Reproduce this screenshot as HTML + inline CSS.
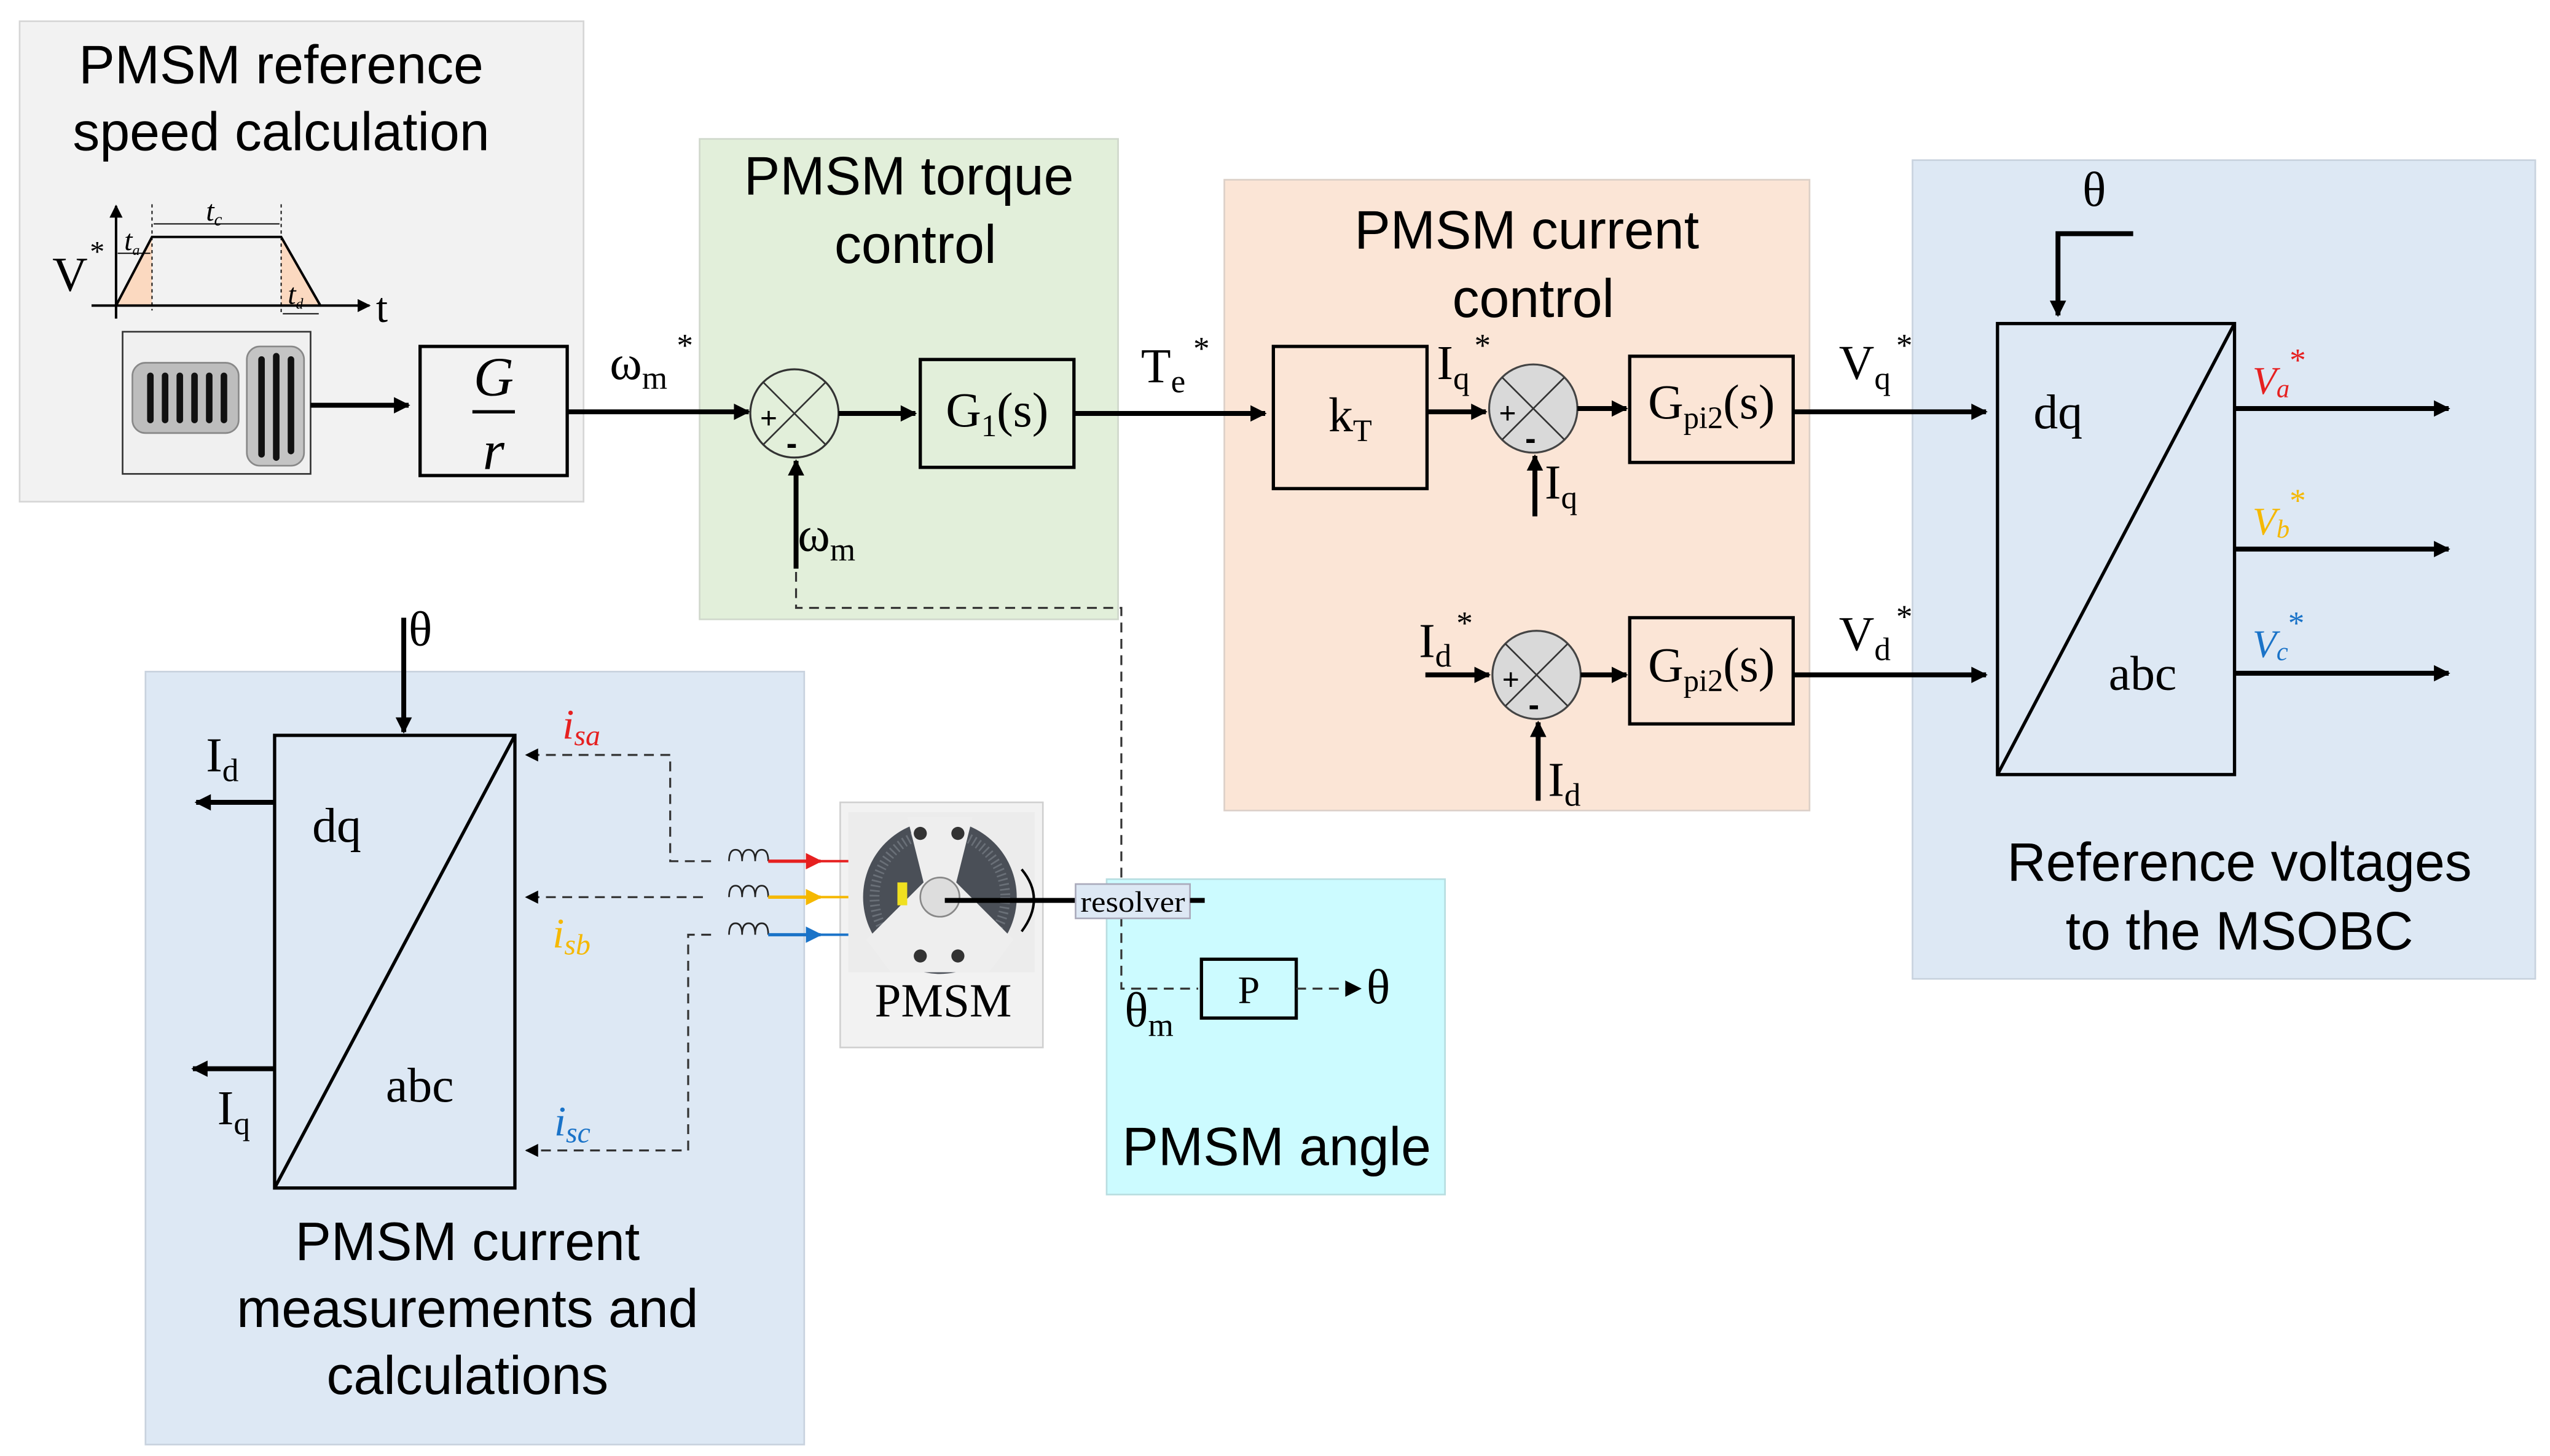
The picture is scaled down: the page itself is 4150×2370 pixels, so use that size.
<!DOCTYPE html>
<html><head><meta charset="utf-8"><style>
html,body{margin:0;padding:0;background:#fff;}
svg{display:block;}
.t{font-family:"Liberation Sans",sans-serif;font-size:33px;fill:#000;text-anchor:middle;}
.m{font-family:"Liberation Serif",serif;font-size:30px;fill:#000;}
.s{font-family:"Liberation Serif",serif;font-size:18px;}
</style></head><body>
<svg width="4150" height="2370" viewBox="0 0 1560 891" preserveAspectRatio="none" xmlns="http://www.w3.org/2000/svg">
<defs>
<marker id="a" viewBox="0 0 10 10" refX="9" refY="5" markerWidth="11" markerHeight="10" markerUnits="userSpaceOnUse" orient="auto"><path d="M0,0L10,5L0,10z" fill="#000"/></marker>
<marker id="A" viewBox="0 0 10 10" refX="9" refY="5" markerWidth="8" markerHeight="8" markerUnits="userSpaceOnUse" orient="auto"><path d="M0,0L10,5L0,10z" fill="#000"/></marker>
<marker id="ar" viewBox="0 0 10 10" refX="9" refY="5" markerWidth="10" markerHeight="10" markerUnits="userSpaceOnUse" orient="auto"><path d="M0,0L10,5L0,10z" fill="#e62020"/></marker>
<marker id="ay" viewBox="0 0 10 10" refX="9" refY="5" markerWidth="10" markerHeight="10" markerUnits="userSpaceOnUse" orient="auto"><path d="M0,0L10,5L0,10z" fill="#f5b800"/></marker>
<marker id="ab" viewBox="0 0 10 10" refX="9" refY="5" markerWidth="10" markerHeight="10" markerUnits="userSpaceOnUse" orient="auto"><path d="M0,0L10,5L0,10z" fill="#1a73c8"/></marker>
</defs>
<rect x="12" y="13" width="345" height="294" fill="#f2f2f2" stroke="#d6d6d6"/>
<rect x="428" y="85" width="256" height="294" fill="#e2efda" stroke="#d0d8cc"/>
<rect x="749" y="110" width="358" height="386" fill="#fbe5d6" stroke="#dcd0c8"/>
<rect x="1170" y="98" width="381" height="501" fill="#dde8f4" stroke="#c8d2de"/>
<rect x="89" y="411" width="403" height="473" fill="#dde8f4" stroke="#c8d2de"/>
<rect x="677" y="538" width="207" height="193" fill="#ccfbff" stroke="#b8dde0"/>
<rect x="514" y="491" width="124" height="150" fill="#f2f2f2" stroke="#d0d0d0"/>

<text class="t" x="172" y="51">PMSM reference</text>
<text class="t" x="172" y="92">speed calculation</text>
<text class="t" x="556" y="119">PMSM torque</text>
<text class="t" x="560" y="161">control</text>
<text class="t" x="934" y="152">PMSM current</text>
<text class="t" x="938" y="194">control</text>
<text class="t" x="1370" y="539">Reference voltages</text>
<text class="t" x="1370" y="581">to the MSOBC</text>
<text class="t" x="286" y="771">PMSM current</text>
<text class="t" x="286" y="812">measurements and</text>
<text class="t" x="286" y="853">calculations</text>
<text class="t" x="781" y="713">PMSM angle</text>

<polygon points="71,187 93,145 93,187" fill="#fbd9c0"/>
<polygon points="172,145 172,187 196,187" fill="#fbd9c0"/>
<line x1="56" y1="187" x2="226" y2="187" stroke="#000" stroke-width="1.5" marker-end="url(#A)"/>
<line x1="71" y1="195" x2="71" y2="126" stroke="#000" stroke-width="1.5" marker-end="url(#A)"/>
<polyline points="71,187 93,145 172,145 196,187" fill="none" stroke="#000" stroke-width="1.5"/>
<line x1="93" y1="125" x2="93" y2="190" stroke="#000" stroke-width="0.7" stroke-dasharray="2,2"/>
<line x1="172" y1="125" x2="172" y2="192" stroke="#000" stroke-width="0.7" stroke-dasharray="2,2"/>
<line x1="94" y1="137" x2="171" y2="137" stroke="#000" stroke-width="0.7"/>
<line x1="72" y1="155" x2="92" y2="155" stroke="#000" stroke-width="0.7"/>
<line x1="173" y1="192" x2="195" y2="192" stroke="#000" stroke-width="0.7"/>
<text class="m" x="32" y="178">V</text><text class="m" x="55" y="160" style="font-size:18px">*</text>
<text class="m" x="230" y="197" style="font-size:26px">t</text>
<text class="s" x="126" y="135" font-style="italic">t<tspan font-size="11" dy="3">c</tspan></text>
<text class="s" x="76" y="153" font-style="italic" font-size="14">t<tspan font-size="9" dy="3">a</tspan></text>
<text class="s" x="176" y="186" font-style="italic" font-size="14">t<tspan font-size="9" dy="3">d</tspan></text>

<rect x="75" y="203" width="115" height="87" fill="#f0f0f0" stroke="#333" stroke-width="1"/>
<rect x="81" y="222" width="65" height="43" rx="8" fill="#bdbdbd" stroke="#888"/>
<g stroke="#111" stroke-width="4" stroke-linecap="round">
<line x1="92" y1="230" x2="92" y2="257"/><line x1="101" y1="230" x2="101" y2="257"/><line x1="110" y1="230" x2="110" y2="257"/><line x1="119" y1="230" x2="119" y2="257"/><line x1="128" y1="230" x2="128" y2="257"/><line x1="137" y1="230" x2="137" y2="257"/></g>
<rect x="151" y="212" width="35" height="73" rx="8" fill="#c4c4c4" stroke="#888"/>
<g stroke="#111" stroke-width="4" stroke-linecap="round"><line x1="160" y1="220" x2="160" y2="278"/><line x1="169" y1="218" x2="169" y2="280"/><line x1="178" y1="220" x2="178" y2="276"/></g>
<line x1="190" y1="248" x2="250" y2="248" stroke="#000" stroke-width="3" marker-end="url(#a)"/>

<rect x="257" y="212" width="90" height="79" fill="none" stroke="#000" stroke-width="2"/>
<text class="m" x="302" y="242" text-anchor="middle" font-style="italic" style="font-size:34px">G</text>
<line x1="289" y1="252" x2="315" y2="252" stroke="#000" stroke-width="2"/>
<text class="m" x="302" y="287" text-anchor="middle" font-style="italic" style="font-size:34px">r</text>
<line x1="347" y1="252" x2="458" y2="252" stroke="#000" stroke-width="3" marker-end="url(#a)"/>
<text class="m" x="373" y="232">ω<tspan style="font-size:20px" dy="6">m</tspan></text><text class="m" x="414" y="218" style="font-size:20px">*</text>

<circle cx="486" cy="253" r="27" fill="none" stroke="#333" stroke-width="1.2"/>
<line x1="467" y1="234" x2="505" y2="272" stroke="#333"/><line x1="505" y1="234" x2="467" y2="272" stroke="#333"/>
<text x="465" y="262" font-family="Liberation Sans" font-size="18">+</text>
<text x="481" y="278" font-family="Liberation Sans" font-size="20" font-weight="bold">-</text>
<line x1="513" y1="253" x2="560" y2="253" stroke="#000" stroke-width="3" marker-end="url(#a)"/>
<line x1="487" y1="348" x2="487" y2="282" stroke="#000" stroke-width="3" marker-end="url(#a)"/>
<text class="m" x="488" y="337">ω<tspan style="font-size:20px" dy="6">m</tspan></text>
<rect x="563" y="220" width="94" height="66" fill="none" stroke="#000" stroke-width="2"/>
<text class="m" x="610" y="261" text-anchor="middle">G<tspan style="font-size:19px" dy="6">1</tspan><tspan dy="-6">(s)</tspan></text>
<line x1="657" y1="253" x2="774" y2="253" stroke="#000" stroke-width="3" marker-end="url(#a)"/>
<text class="m" x="698" y="234">T<tspan style="font-size:20px" dy="6">e</tspan></text><text class="m" x="730" y="220" style="font-size:20px">*</text>

<polyline points="487,350 487,372 686,372 686,605 733,605" fill="none" stroke="#333" stroke-width="1.2" stroke-dasharray="6,4"/>

<rect x="779" y="212" width="94" height="87" fill="none" stroke="#000" stroke-width="2"/>
<text class="m" x="826" y="264" text-anchor="middle">k<tspan style="font-size:19px" dy="6">T</tspan></text>
<line x1="873" y1="252" x2="909" y2="252" stroke="#000" stroke-width="3" marker-end="url(#a)"/>
<text class="m" x="879" y="232">I<tspan style="font-size:20px" dy="6">q</tspan></text><text class="m" x="902" y="218" style="font-size:20px">*</text>
<circle cx="938" cy="250" r="27" fill="#d9d9d9" stroke="#444" stroke-width="1.2"/>
<line x1="919" y1="231" x2="957" y2="269" stroke="#333"/><line x1="957" y1="231" x2="919" y2="269" stroke="#333"/>
<text x="917" y="259" font-family="Liberation Sans" font-size="18">+</text>
<text x="933" y="275" font-family="Liberation Sans" font-size="20" font-weight="bold">-</text>
<line x1="939" y1="316" x2="939" y2="279" stroke="#000" stroke-width="3" marker-end="url(#a)"/>
<text class="m" x="945" y="305">I<tspan style="font-size:20px" dy="6">q</tspan></text>
<line x1="965" y1="250" x2="995" y2="250" stroke="#000" stroke-width="3" marker-end="url(#a)"/>
<rect x="997" y="218" width="100" height="65" fill="none" stroke="#000" stroke-width="2"/>
<text class="m" x="1047" y="256" text-anchor="middle">G<tspan style="font-size:19px" dy="6">pi2</tspan><tspan dy="-6">(s)</tspan></text>
<line x1="1097" y1="252" x2="1215" y2="252" stroke="#000" stroke-width="3" marker-end="url(#a)"/>
<text class="m" x="1125" y="232">V<tspan style="font-size:20px" dy="6">q</tspan></text><text class="m" x="1160" y="218" style="font-size:20px">*</text>

<text class="m" x="868" y="402">I<tspan style="font-size:20px" dy="6">d</tspan></text><text class="m" x="891" y="388" style="font-size:20px">*</text>
<line x1="872" y1="413" x2="911" y2="413" stroke="#000" stroke-width="3" marker-end="url(#a)"/>
<circle cx="940" cy="413" r="27" fill="#d9d9d9" stroke="#444" stroke-width="1.2"/>
<line x1="921" y1="394" x2="959" y2="432" stroke="#333"/><line x1="959" y1="394" x2="921" y2="432" stroke="#333"/>
<text x="919" y="422" font-family="Liberation Sans" font-size="18">+</text>
<text x="935" y="438" font-family="Liberation Sans" font-size="20" font-weight="bold">-</text>
<line x1="941" y1="490" x2="941" y2="442" stroke="#000" stroke-width="3" marker-end="url(#a)"/>
<text class="m" x="947" y="487">I<tspan style="font-size:20px" dy="6">d</tspan></text>
<line x1="967" y1="413" x2="995" y2="413" stroke="#000" stroke-width="3" marker-end="url(#a)"/>
<rect x="997" y="378" width="100" height="65" fill="none" stroke="#000" stroke-width="2"/>
<text class="m" x="1047" y="417" text-anchor="middle">G<tspan style="font-size:19px" dy="6">pi2</tspan><tspan dy="-6">(s)</tspan></text>
<line x1="1097" y1="413" x2="1215" y2="413" stroke="#000" stroke-width="3" marker-end="url(#a)"/>
<text class="m" x="1125" y="398">V<tspan style="font-size:20px" dy="6">d</tspan></text><text class="m" x="1160" y="384" style="font-size:20px">*</text>

<text class="m" x="1274" y="126">θ</text>
<polyline points="1305,143 1259,143 1259,193" fill="none" stroke="#000" stroke-width="3" marker-end="url(#a)"/>
<rect x="1222" y="198" width="145" height="276" fill="none" stroke="#000" stroke-width="2"/>
<line x1="1222" y1="474" x2="1367" y2="198" stroke="#000" stroke-width="2"/>
<text class="m" x="1244" y="262">dq</text>
<text class="m" x="1290" y="422">abc</text>
<line x1="1367" y1="250" x2="1498" y2="250" stroke="#000" stroke-width="3" marker-end="url(#a)"/>
<line x1="1367" y1="336" x2="1498" y2="336" stroke="#000" stroke-width="3" marker-end="url(#a)"/>
<line x1="1367" y1="412" x2="1498" y2="412" stroke="#000" stroke-width="3" marker-end="url(#a)"/>
<text x="1378" y="241" font-family="Liberation Serif" font-style="italic" style="font-size:24px;fill:#e62020">V<tspan style="font-size:16px" dy="2">a</tspan><tspan dy="-16" font-style="normal" style="font-size:20px">*</tspan></text>
<text x="1378" y="327" font-family="Liberation Serif" font-style="italic" style="font-size:24px;fill:#f5b800">V<tspan style="font-size:16px" dy="2">b</tspan><tspan dy="-16" font-style="normal" style="font-size:20px">*</tspan></text>
<text x="1378" y="402" font-family="Liberation Serif" font-style="italic" style="font-size:24px;fill:#1a73c8">V<tspan style="font-size:16px" dy="2">c</tspan><tspan dy="-16" font-style="normal" style="font-size:20px">*</tspan></text>

<text class="m" x="250" y="395">θ</text>
<line x1="247" y1="378" x2="247" y2="448" stroke="#000" stroke-width="3" marker-end="url(#a)"/>
<rect x="168" y="450" width="147" height="277" fill="none" stroke="#000" stroke-width="2"/>
<line x1="168" y1="727" x2="315" y2="450" stroke="#000" stroke-width="2"/>
<text class="m" x="191" y="515">dq</text>
<text class="m" x="236" y="674">abc</text>
<line x1="168" y1="491" x2="120" y2="491" stroke="#000" stroke-width="3" marker-end="url(#a)"/>
<line x1="168" y1="654" x2="118" y2="654" stroke="#000" stroke-width="3" marker-end="url(#a)"/>
<text class="m" x="126" y="472">I<tspan style="font-size:20px" dy="6">d</tspan></text>
<text class="m" x="133" y="688">I<tspan style="font-size:20px" dy="6">q</tspan></text>

<g fill="none" stroke="#333" stroke-width="1.2" stroke-dasharray="6,4">
<polyline points="435,527 410,527 410,462 322,462" marker-end="url(#A)"/>
<polyline points="430,549 322,549" marker-end="url(#A)"/>
<polyline points="435,572 421,572 421,704 322,704" marker-end="url(#A)"/>
</g>
<text x="344" y="452" font-family="Liberation Serif" font-style="italic" style="font-size:26px;fill:#e62020">i<tspan style="font-size:18px" dy="4">sa</tspan></text>
<text x="338" y="580" font-family="Liberation Serif" font-style="italic" style="font-size:26px;fill:#f5b800">i<tspan style="font-size:18px" dy="4">sb</tspan></text>
<text x="339" y="695" font-family="Liberation Serif" font-style="italic" style="font-size:26px;fill:#1a73c8">i<tspan style="font-size:18px" dy="4">sc</tspan></text>

<g fill="none" stroke="#222" stroke-width="1">
<path d="M446,527 q0,-7 4,-7 q4,0 4,7 q0,-7 4,-7 q4,0 4,7 q0,-7 4,-7 q4,0 4,7"/>
<path d="M446,549 q0,-7 4,-7 q4,0 4,7 q0,-7 4,-7 q4,0 4,7 q0,-7 4,-7 q4,0 4,7"/>
<path d="M446,572 q0,-7 4,-7 q4,0 4,7 q0,-7 4,-7 q4,0 4,7 q0,-7 4,-7 q4,0 4,7"/>
</g>
<line x1="470" y1="527" x2="530" y2="527" stroke="#e62020" stroke-width="1.5"/>
<line x1="470" y1="527" x2="502" y2="527" stroke="#e62020" stroke-width="2" marker-end="url(#ar)"/>
<line x1="470" y1="549" x2="530" y2="549" stroke="#f5b800" stroke-width="1.5"/>
<line x1="470" y1="549" x2="502" y2="549" stroke="#f5b800" stroke-width="2" marker-end="url(#ay)"/>
<line x1="470" y1="572" x2="530" y2="572" stroke="#1a73c8" stroke-width="1.5"/>
<line x1="470" y1="572" x2="502" y2="572" stroke="#1a73c8" stroke-width="2" marker-end="url(#ab)"/>

<rect x="519" y="497" width="114" height="98" fill="#ececec"/>
<circle cx="575" cy="549" r="47" fill="#4a4f57"/>
<circle cx="575" cy="549" r="40" fill="none" stroke="#6a7078" stroke-width="6" stroke-dasharray="1,2"/>
<path d="M555,500 L595,500 L585,540 L620,575 L605,595 L545,595 L530,575 L565,540 Z" fill="#eeeeee"/>
<circle cx="575" cy="549" r="12" fill="#ddd" stroke="#888"/>
<rect x="549" y="540" width="6" height="14" fill="#f0e020"/>
<circle cx="563" cy="510" r="4" fill="#333"/><circle cx="586" cy="510" r="4" fill="#333"/><circle cx="563" cy="585" r="4" fill="#333"/><circle cx="586" cy="585" r="4" fill="#333"/>
<line x1="578" y1="551" x2="660" y2="551" stroke="#000" stroke-width="3"/>
<path d="M625,532 Q640,550 625,570" fill="none" stroke="#000" stroke-width="1.5"/>
<text class="m" x="577" y="622" text-anchor="middle" style="font-size:29px">PMSM</text>
<rect x="658" y="541" width="70" height="21" fill="#dde8f4" stroke="#aab"/>
<text class="m" x="693" y="558" text-anchor="middle" style="font-size:18px" textLength="64" lengthAdjust="spacingAndGlyphs">resolver</text>
<line x1="728" y1="551" x2="737" y2="551" stroke="#000" stroke-width="3"/>

<rect x="735" y="587" width="58" height="36" fill="none" stroke="#000" stroke-width="2"/>
<text class="m" x="764" y="614" text-anchor="middle" style="font-size:24px">P</text>
<line x1="793" y1="605" x2="832" y2="605" stroke="#333" stroke-width="1.2" stroke-dasharray="6,4" marker-end="url(#a)"/>
<text class="m" x="836" y="614">θ</text>
<text class="m" x="688" y="628">θ<tspan style="font-size:20px" dy="6">m</tspan></text>
</svg>
</body></html>
